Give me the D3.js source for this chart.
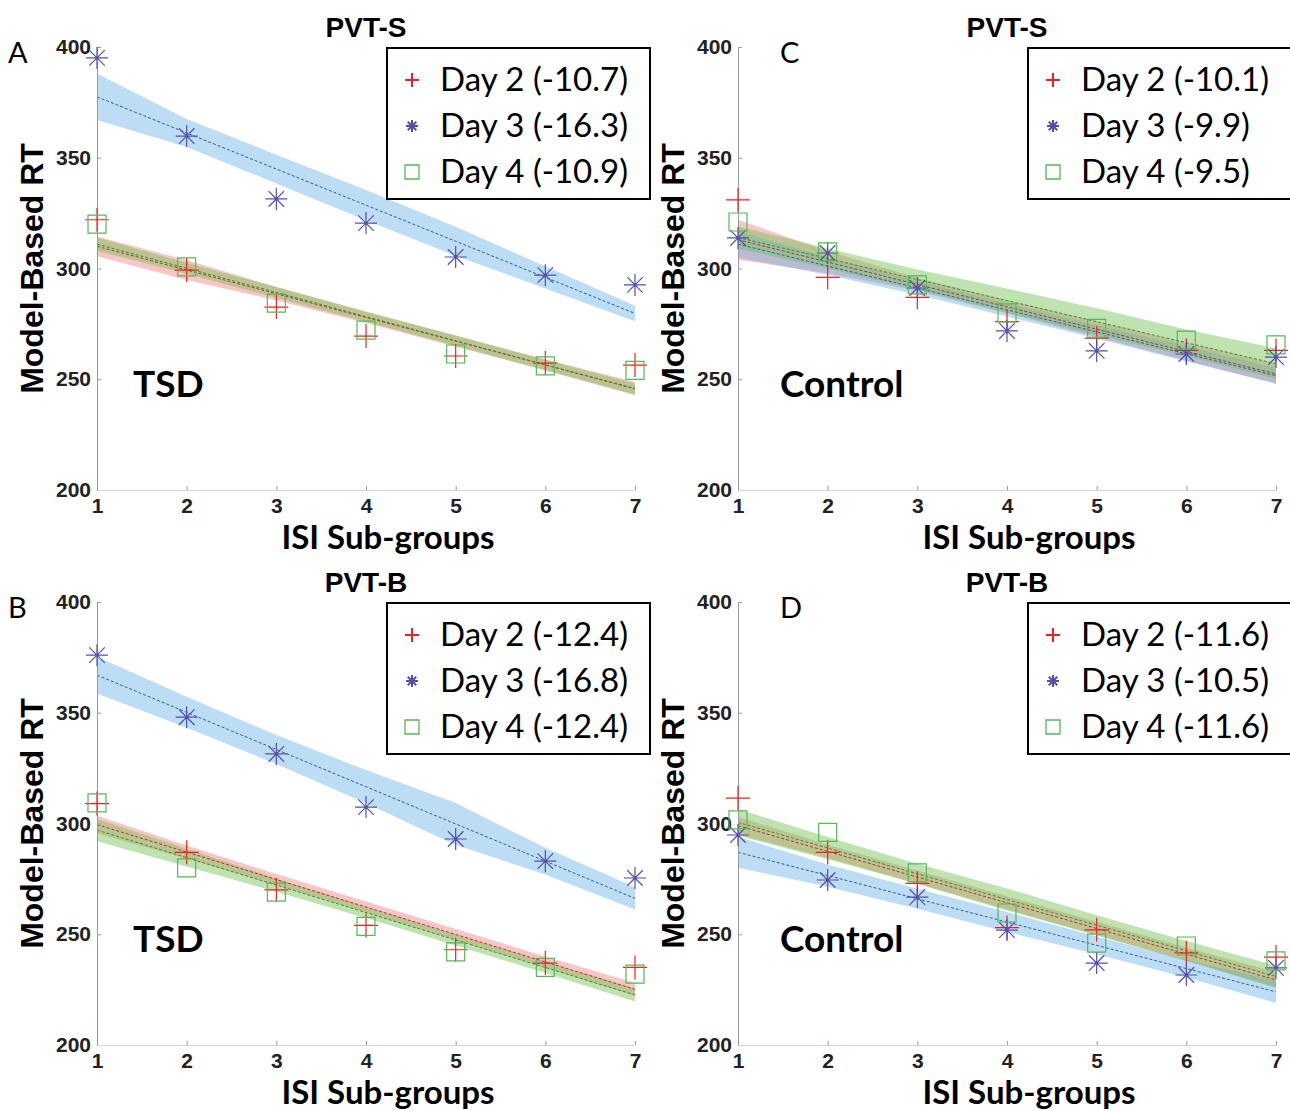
<!DOCTYPE html>
<html>
<head>
<meta charset="utf-8">
<script src="https://cdn.jsdelivr.net/npm/d3@7"></script>
<style>
  body { margin: 0; background: #fff; }
  svg { display: block; }
</style>
</head>
<body>
<svg id="chart" width="1290" height="1111"></svg>
<script>
// x categories and y ticks
var isiGroups = [1, 2, 3, 4, 5, 6, 7];
var yTicks = [200, 250, 300, 350, 400];
var dayNames = ['Day 2', 'Day 3', 'Day 4'];

// A: TSD, PVT-S
var tsdS_day2 = [322, 299.3, 282.6, 269.5, 260.5, 257.3, 256.4];
var tsdS_day3 = [395.1, 359.8, 331.4, 320.5, 305.2, 297, 292.6];
var tsdS_day4 = [320, 300.7, 284.4, 272.2, 261.4, 256, 254];
var tsdS_slopes = [-10.7, -16.3, -10.9];
var tsdS_fitStart = [310, 377.5, 311];
var tsdS_band2 = [4.5, 4.5, 3, 2.5, 2.5, 2.5, 3];
var tsdS_band3 = [10.5, 6.3, 6.5, 6.8, 6.5, 5, 3.5];
var tsdS_band4 = [3, 2.5, 2.5, 2.3, 2.3, 2.3, 2.5];

// B: TSD, PVT-B
var tsdB_day2 = [309, 287, 270, 254, 243, 237, 235];
var tsdB_day3 = [376, 348, 331.4, 307.4, 293, 283, 275.4];
var tsdB_day4 = [309.3, 280, 269, 253.6, 242, 235, 232];
var tsdB_slopes = [-12.4, -16.8, -12.4];
var tsdB_fitStart = [299.5, 367, 297];
var tsdB_band2 = [4, 3, 2.5, 2.5, 2.5, 2.5, 3];
var tsdB_band3 = [8.3, 7, 6.5, 7.5, 9.5, 6, 5];
var tsdB_band4 = [5, 4, 3, 2.5, 2.5, 2.5, 3];

// C: Control, PVT-S
var ctlS_day2 = [331, 296, 287, 276, 268.6, 263, 263];
var ctlS_day3 = [313.8, 307, 291.2, 271.8, 262.8, 261.4, 260];
var ctlS_day4 = [321, 307.5, 292.6, 280, 273, 267.7, 265.5];
var ctlS_slopes = [-10.1, -9.9, -9.5];
var ctlS_fitStart = [313, 311, 314];
var ctlS_band2 = [9, 5, 3, 3, 3.5, 4, 4.5];
var ctlS_band3 = [6, 4, 3, 3, 3, 3.5, 3.5];
var ctlS_band4 = [5, 4.5, 4.5, 5.5, 6, 6, 7];

// D: Control, PVT-B
var ctlB_day2 = [311.5, 287, 273, 253, 252, 241.6, 239.7];
var ctlB_day3 = [294.8, 274.5, 266.8, 251.9, 237, 231.6, 234.8];
var ctlB_day4 = [301.6, 296, 277.7, 259.6, 246, 244.7, 238];
var ctlB_slopes = [-11.6, -10.5, -11.6];
var ctlB_fitStart = [299, 287, 300.5];
var ctlB_band2 = [4, 3, 3, 3, 3, 3, 3.5];
var ctlB_band3 = [7, 5, 4.5, 4.5, 4, 4, 5];
var ctlB_band4 = [6, 5, 4.5, 5, 4.5, 4.5, 5];

var panels = [
  { letter: 'A', letterX: -89, title: 'PVT-S', group: 'TSD', left: 97, top: 47,
    points: [tsdS_day2, tsdS_day3, tsdS_day4], slopes: tsdS_slopes, fitStart: tsdS_fitStart,
    bands: [tsdS_band2, tsdS_band3, tsdS_band4] },
  { letter: 'C', letterX: 42, title: 'PVT-S', group: 'Control', left: 738, top: 47,
    points: [ctlS_day2, ctlS_day3, ctlS_day4], slopes: ctlS_slopes, fitStart: ctlS_fitStart,
    bands: [ctlS_band2, ctlS_band3, ctlS_band4] },
  { letter: 'B', letterX: -89, title: 'PVT-B', group: 'TSD', left: 97, top: 602,
    points: [tsdB_day2, tsdB_day3, tsdB_day4], slopes: tsdB_slopes, fitStart: tsdB_fitStart,
    bands: [tsdB_band2, tsdB_band3, tsdB_band4] },
  { letter: 'D', letterX: 42, title: 'PVT-B', group: 'Control', left: 738, top: 602,
    points: [ctlB_day2, ctlB_day3, ctlB_day4], slopes: ctlB_slopes, fitStart: ctlB_fitStart,
    bands: [ctlB_band2, ctlB_band3, ctlB_band4] }
];

var plotW = 538, plotH = 443;
var markerColor = ['#ee2222', '#5050aa', '#55b855'];
var lineColor = ['#b83030', '#2f5f9f', '#3a8a3a'];
var bandColor = ['#f08080', '#5aaae6', '#70c050'];
var bandOpacity = [0.45, 0.4, 0.45];
var markerShape = ['plus', 'star', 'square'];
var boldSans = '"Liberation Sans", Arial, sans-serif';

var svg = d3.select('#chart');

function markerPath(shape, r) {
  if (shape === 'plus') {
    return 'M' + (-r) + ',0H' + r + 'M0,' + (-r) + 'V' + r;
  }
  if (shape === 'star') {
    var d = '', k = r * Math.SQRT1_2;
    d += 'M' + (-r) + ',0H' + r + 'M0,' + (-r) + 'V' + r;
    d += 'M' + (-k) + ',' + (-k) + 'L' + k + ',' + k;
    d += 'M' + (-k) + ',' + k + 'L' + k + ',' + (-k);
    return d;
  }
  return 'M' + (-r) + ',' + (-r) + 'H' + r + 'V' + r + 'H' + (-r) + 'Z';
}

function drawPanel(p) {
  var g = svg.append('g').attr('transform', 'translate(' + p.left + ',' + p.top + ')');

  var x = d3.scaleLinear().domain([1, 7]).range([0, plotW]);
  var y = d3.scaleLinear().domain([200, 400]).range([plotH, 0]);

  // confidence bands
  p.bands.forEach(function (half, s) {
    var rows = isiGroups.map(function (gx, i) {
      var fit = p.fitStart[s] + p.slopes[s] * (gx - 1);
      return { x: gx, lo: fit - half[i], hi: fit + half[i] };
    });
    g.append('path')
      .datum(rows)
      .attr('d', d3.area().x(function (d) { return x(d.x); })
        .y0(function (d) { return y(d.lo); })
        .y1(function (d) { return y(d.hi); }))
      .attr('fill', bandColor[s])
      .attr('fill-opacity', bandOpacity[s]);
  });

  // fitted lines
  p.slopes.forEach(function (slope, s) {
    var ends = [1, 7].map(function (gx) {
      return { x: gx, v: p.fitStart[s] + slope * (gx - 1) };
    });
    g.append('path')
      .datum(ends)
      .attr('d', d3.line().x(function (d) { return x(d.x); }).y(function (d) { return y(d.v); }))
      .attr('fill', 'none')
      .attr('stroke', lineColor[s])
      .attr('stroke-width', 1)
      .attr('stroke-dasharray', '3,2');
  });

  // axes
  var yAxis = d3.axisLeft(y).tickValues(yTicks).tickSizeInner(-4).tickSizeOuter(0).tickPadding(6);
  var xAxis = d3.axisBottom(x).tickValues(isiGroups).tickFormat(d3.format('d'))
    .tickSizeInner(-4).tickSizeOuter(0).tickPadding(8);

  var ya = g.append('g').call(yAxis);
  ya.select('.domain').attr('stroke', '#9a9a9a');
  ya.selectAll('.tick line').attr('stroke', '#9a9a9a');
  ya.selectAll('text').attr('font-family', boldSans)
    .attr('font-weight', 'bold').attr('font-size', 21).attr('fill', '#222');

  var xa = g.append('g').attr('transform', 'translate(0,' + plotH + ')').call(xAxis);
  xa.select('.domain').attr('stroke', '#d4d4d4');
  xa.selectAll('.tick line').attr('stroke', '#9a9a9a');
  xa.selectAll('text').attr('font-family', boldSans)
    .attr('font-weight', 'bold').attr('font-size', 21).attr('fill', '#222');

  // markers
  p.points.forEach(function (vals, s) {
    g.append('g').selectAll('path')
      .data(vals)
      .join('path')
      .attr('transform', function (d, i) { return 'translate(' + x(isiGroups[i]) + ',' + y(d) + ')'; })
      .attr('d', markerPath(markerShape[s], s === 2 ? 9 : (s === 0 ? 12 : 11)))
      .attr('fill', 'none')
      .attr('stroke', markerColor[s])
      .attr('stroke-width', 1.2);
  });

  // titles and labels
  g.append('text')
    .attr('x', plotW / 2).attr('y', -10)
    .attr('text-anchor', 'middle')
    .attr('font-family', boldSans)
    .attr('font-weight', 'bold').attr('font-size', 28)
    .text(p.title);

  g.append('text')
    .attr('x', p.letterX).attr('y', 16)
    .attr('font-family', 'Lato, sans-serif').attr('font-size', 29)
    .text(p.letter);

  g.append('text')
    .attr('x', 291).attr('y', plotH + 59)
    .attr('text-anchor', 'middle')
    .attr('font-family', 'Lato, sans-serif')
    .attr('font-weight', 'bold').attr('font-size', 33)
    .text('ISI Sub-groups');

  g.append('text')
    .attr('transform', 'translate(-54,' + (plotH / 2) + ') rotate(-90)')
    .attr('text-anchor', 'middle')
    .attr('font-family', boldSans)
    .attr('font-weight', 'bold').attr('font-size', 32)
    .text('Model-Based RT');

  g.append('text')
    .attr('x', p.group === 'TSD' ? 36 : 42).attr('y', 350)
    .attr('font-family', 'Lato, sans-serif')
    .attr('font-weight', 'bold').attr('font-size', 37)
    .text(p.group);

  // legend
  var lg = g.append('g').attr('transform', 'translate(290,1)');
  lg.append('rect')
    .attr('width', 263).attr('height', 151)
    .attr('fill', '#fff').attr('stroke', '#000').attr('stroke-width', 2);
  dayNames.forEach(function (name, s) {
    var cy = 32 + s * 46;
    lg.append('path')
      .attr('transform', 'translate(25,' + cy + ')')
      .attr('d', markerPath(markerShape[s], s === 1 ? 6 : 7))
      .attr('fill', 'none')
      .attr('stroke', markerColor[s])
      .attr('stroke-width', s === 2 ? 1.3 : 2);
    lg.append('text')
      .attr('x', 53).attr('y', cy + 11)
      .attr('font-family', 'Lato, sans-serif').attr('font-size', 33)
      .text(name + ' (' + p.slopes[s].toFixed(1) + ')');
  });
}

panels.forEach(drawPanel);
</script>
</body>
</html>
